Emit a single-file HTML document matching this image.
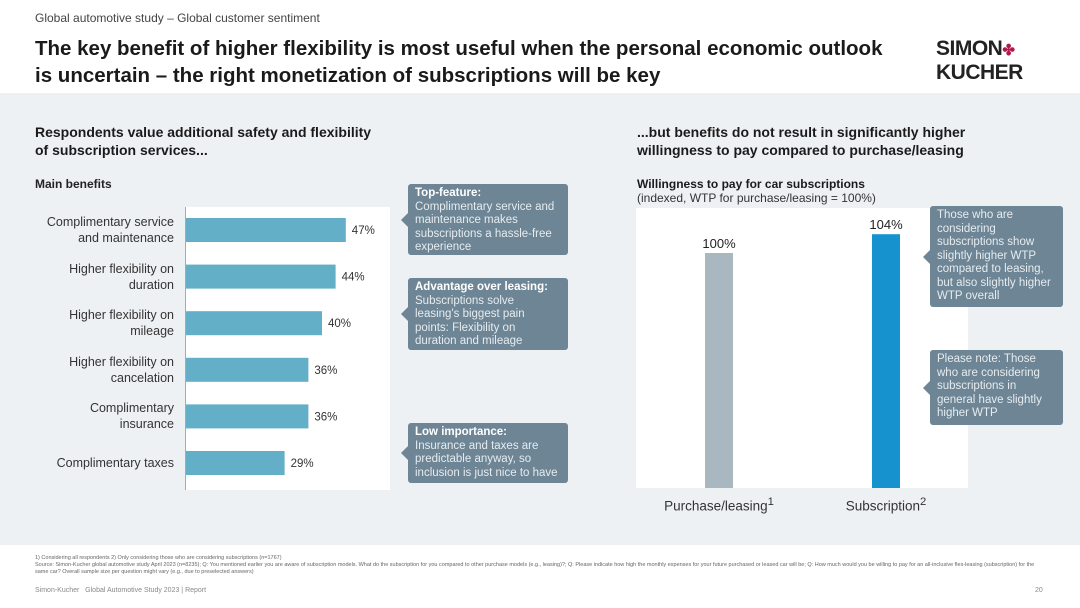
<!DOCTYPE html>
<html><head><meta charset="utf-8">
<style>
*{margin:0;padding:0;box-sizing:border-box}
body{width:1080px;height:608px;position:relative;font-family:"Liberation Sans",sans-serif;background:#fff;overflow:hidden;color:#222}
.abs{position:absolute}
.body-bg{left:0;top:93px;width:1080px;height:452px;background:#eef1f4}
.h2{font-size:14px;font-weight:bold;line-height:18px;color:#1a1a1a}
.call{background:#6d8595;color:#e6ecef;font-size:11.5px;line-height:13.5px;padding:3px 9px 3px 7px;border-radius:3px}
.call b{color:#fff}
.call:before{content:"";position:absolute;left:-7px;top:50%;margin-top:-7px;border-right:7px solid #6d8595;border-top:7px solid transparent;border-bottom:7px solid transparent}
.lbl{font-size:12.5px;color:#333;text-align:right;line-height:16px;width:150px}
.foot{font-size:5.5px;color:#666;line-height:7px}
</style></head><body>
<div class="abs body-bg"></div>
<div class="abs" style="left:35px;top:11px;font-size:12px;color:#444">Global automotive study – Global customer sentiment</div>
<div class="abs" style="left:35px;top:35px;font-size:20.5px;font-weight:bold;line-height:27px;color:#1a1a1a;width:900px;white-space:nowrap">The key benefit of higher flexibility is most useful when the personal economic outlook<br>is uncertain – the right monetization of subscriptions will be key</div>
<div class="abs" style="left:936px;top:38px;font-weight:bold;font-size:21px;line-height:22px;color:#222;letter-spacing:-0.5px">SIMON<span style="color:#b0174f;font-size:15px">✤</span><br>KUCHER</div>

<div class="abs h2" style="left:35px;top:123px">Respondents value additional safety and flexibility<br>of subscription services...</div>
<div class="abs h2" style="left:637px;top:123px">...but benefits do not result in significantly higher<br>willingness to pay compared to purchase/leasing</div>
<div class="abs" style="left:35px;top:177px;font-size:12px;font-weight:bold">Main benefits</div>
<div class="abs" style="left:637px;top:177px;font-size:12px;line-height:14px;color:#333"><b style="color:#1a1a1a">Willingness to pay for car subscriptions</b><br>(indexed, WTP for purchase/leasing = 100%)</div>

<svg class="abs" style="left:0;top:0" width="1080" height="608" id="charts">
<rect x="186" y="207" width="204" height="283" fill="#fff"/>
<line x1="185.5" y1="207" x2="185.5" y2="490" stroke="#aaa"/>
<rect x="636" y="208" width="332" height="280" fill="#fff"/>
<g id="lbars"></g><g id="rbars"></g>
</svg>
<div id="labels"></div>

<div class="abs call" style="left:408px;top:184px;width:160px;height:71px"><b>Top-feature:</b><br>Complimentary service and maintenance makes subscriptions a hassle-free experience</div>
<div class="abs call" style="left:408px;top:278px;width:160px;height:72px"><b>Advantage over leasing:</b><br>Subscriptions solve leasing's biggest pain points: Flexibility on duration and mileage</div>
<div class="abs call" style="left:408px;top:423px;width:160px;height:60px"><b>Low importance:</b><br>Insurance and taxes are predictable anyway, so inclusion is just nice to have</div>
<div class="abs call" style="left:930px;top:206px;width:133px;height:101px">Those who are considering subscriptions show slightly higher WTP compared to leasing, but also slightly higher WTP overall</div>
<div class="abs call" style="left:930px;top:350px;width:133px;height:75px">Please note: Those who are considering subscriptions in general have slightly higher WTP</div>

<div class="abs foot" style="left:35px;top:555px;width:1010px">1) Considering all respondents 2) Only considering those who are considering subscriptions (n=1767)<br>Source: Simon-Kucher global automotive study April 2023 (n=8235); Q: You mentioned earlier you are aware of subscription models. What do the subscription for you compared to other purchase models (e.g., leasing)?; Q: Please indicate how high the monthly expenses for your future purchased or leased car will be; Q: How much would you be willing to pay for an all-inclusive flex-leasing (subscription) for the same car? Overall sample size per question might vary (e.g., due to preselected answers)</div>
<div class="abs" style="left:35px;top:587px;font-size:7px;color:#888">Simon-Kucher &nbsp; Global Automotive Study 2023 | Report</div>
<div class="abs" style="left:1035px;top:587px;font-size:7px;color:#888">20</div>

<script>
const benefitCategories=["Complimentary service<br>and maintenance","Higher flexibility on<br>duration","Higher flexibility on<br>mileage","Higher flexibility on<br>cancelation","Complimentary<br>insurance","Complimentary taxes"];
const benefitValues=[47,44,40,36,36,29];
const benefitLabels=["47%","44%","40%","36%","36%","29%"];
const wtpCategories=["Purchase/leasing<sup>1</sup>","Subscription<sup>2</sup>"];
const wtpValues=[100,104];
const wtpLabels=["100%","104%"];

const NS="http://www.w3.org/2000/svg";
const xL=v=>186+v*3.4;
const yL=i=>230+i*46.6;
const yR=v=>488-(v-50)*4.7;
const xR=i=>719+i*167;
const lg=document.getElementById('lbars'),rg=document.getElementById('rbars'),lab=document.getElementById('labels');
benefitValues.forEach((v,i)=>{
 const r=document.createElementNS(NS,'rect');
 r.setAttribute('x',186);r.setAttribute('y',yL(i)-12);r.setAttribute('width',xL(v)-186);r.setAttribute('height',24);r.setAttribute('fill','#64afc8');
 
 
 lg.appendChild(r);
 const t=document.createElementNS(NS,'text');
 t.setAttribute('x',xL(v)+6);t.setAttribute('y',yL(i)+4);t.setAttribute('font-size','11.5');t.setAttribute('fill','#333');t.textContent=benefitLabels[i];
 
 
 lg.appendChild(t);
 const d=document.createElement('div');
 d.className='abs lbl';d.style.left='24px';d.style.top=(yL(i)-(benefitCategories[i].includes('<br>')?16:8))+'px';d.innerHTML=benefitCategories[i];
 
 
 lab.appendChild(d);
});
const cols=['#a9b7c1','#1693cf'];
wtpValues.forEach((v,i)=>{
 const r=document.createElementNS(NS,'rect');
 r.setAttribute('x',xR(i)-14);r.setAttribute('y',yR(v));r.setAttribute('width',28);r.setAttribute('height',488-yR(v));r.setAttribute('fill',cols[i]);
 
 
 rg.appendChild(r);
 const t=document.createElementNS(NS,'text');
 t.setAttribute('x',xR(i));t.setAttribute('y',yR(v)-5);t.setAttribute('font-size','13');t.setAttribute('fill','#222');t.setAttribute('text-anchor','middle');t.textContent=wtpLabels[i];
 
 
 rg.appendChild(t);
 const d=document.createElement('div');
 d.className='abs';d.style.left=(xR(i)-80)+'px';d.style.width='160px';d.style.textAlign='center';d.style.top='496px';d.style.fontSize='13.5px';d.style.color='#333';d.innerHTML=wtpCategories[i];
 
 
 lab.appendChild(d);
});
</script>
</body></html>
